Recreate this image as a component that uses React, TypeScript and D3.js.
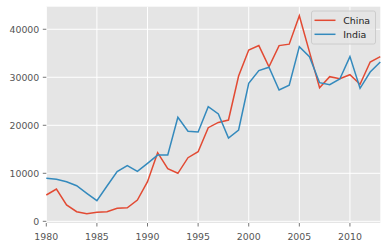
import React from "react";
import * as d3 from "d3";

const years = d3.range(1980, 2014);
const china = [5480, 6730, 3400, 2000, 1590, 1870, 2000, 2700, 2830, 4440, 8250, 14300, 10960, 10000, 13250, 14500, 19500, 20600, 21100, 30270, 35690, 36600, 32200, 36600, 36900, 42800, 35300, 27830, 30130, 29700, 30540, 28540, 33190, 34300];
const india = [8950, 8750, 8250, 7420, 5830, 4300, 7350, 10340, 11590, 10420, 12080, 13800, 13800, 21670, 18750, 18600, 23870, 22350, 17350, 19020, 28750, 31380, 32080, 27350, 28330, 36380, 34300, 28880, 28460, 29650, 34300, 27700, 31100, 33190];
const xTicks = [1980, 1985, 1990, 1995, 2000, 2005, 2010];
const yTicks = [0, 10000, 20000, 30000, 40000];
const seriesNames = ["China", "India"];
const colors = ["#E24A33", "#348ABD"];

export default function App() {
  const W = 387, H = 248;
  const L = 46.3, R = 380.3, T = 6.7, B = 223;
  const x = d3.scaleLinear().domain([1980, 2013]).range([L, R]);
  const y = d3.scaleLinear().domain([-350, 44700]).range([B, T]);
  const line = d3.line<number>().x((_, i) => x(years[i])).y((d) => y(d));
  const font = "DejaVu Sans, sans-serif";
  const fs = 9.4;
  const data = [china, india];
  return (
    <svg width={W} height={H} style={{ position: "absolute", left: 0, top: 0 }}>
      <rect x={0} y={0} width={W} height={H} fill="#fff" />
      <rect x={L} y={T} width={R - L} height={B - T} fill="#E5E5E5" />
      {xTicks.map((t) => (
        <line key={"gx" + t} x1={x(t)} x2={x(t)} y1={T} y2={B} stroke="#fff" strokeWidth={1} />
      ))}
      {yTicks.map((t) => (
        <line key={"gy" + t} x1={L} x2={R} y1={y(t)} y2={y(t)} stroke="#fff" strokeWidth={1} />
      ))}
      {data.map((d, i) => (
        <path key={i} d={line(d) || ""} fill="none" stroke={colors[i]} strokeWidth={1.5} />
      ))}
      {xTicks.map((t) => (
        <g key={"tx" + t}>
          <line x1={x(t)} x2={x(t)} y1={B} y2={B + 3.5} stroke="#555" strokeWidth={0.8} />
          <text x={x(t)} y={B + 16.5} textAnchor="middle" fontSize={fs} fontFamily={font} fill="#555">{t}</text>
        </g>
      ))}
      {yTicks.map((t) => (
        <g key={"ty" + t}>
          <line x1={L - 3.5} x2={L} y1={y(t)} y2={y(t)} stroke="#555" strokeWidth={0.8} />
          <text x={L - 7} y={y(t)} dy="0.35em" textAnchor="end" fontSize={fs} fontFamily={font} fill="#555">{t}</text>
        </g>
      ))}
      <g>
        <rect x={311.5} y={11} width={64} height={33} rx={2} fill="#E5E5E5" fillOpacity={0.8} stroke="#ccc" strokeWidth={1} />
        {seriesNames.map((n, i) => (
          <g key={n}>
            <line x1={314.5} x2={335.5} y1={20.3 + i * 14} y2={20.3 + i * 14} stroke={colors[i]} strokeWidth={1.5} />
            <text x={343.3} y={20.3 + i * 14} dy="0.35em" fontSize={fs} fontFamily={font} fill="#222">{n}</text>
          </g>
        ))}
      </g>
    </svg>
  );
}
